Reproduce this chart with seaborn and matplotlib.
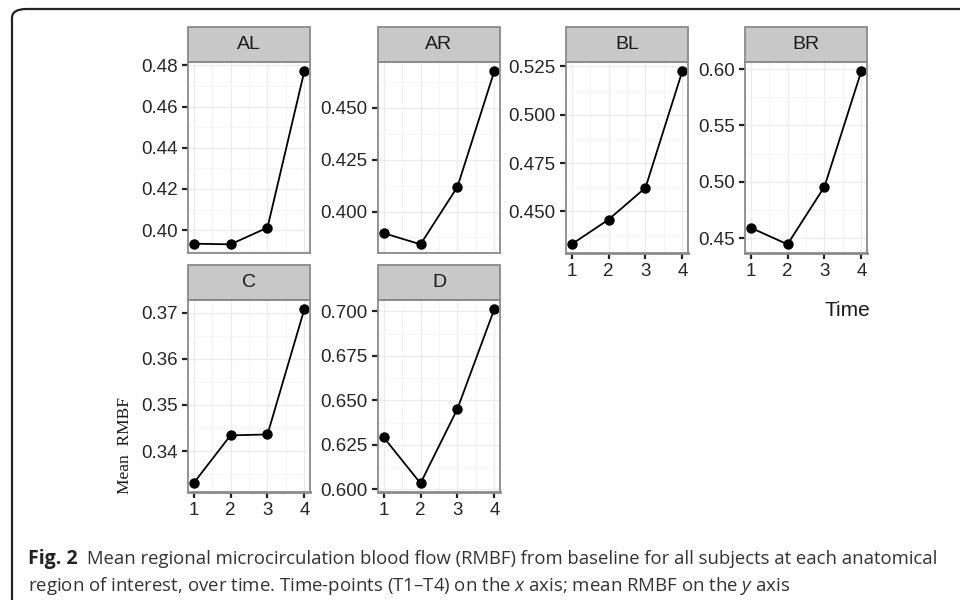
import numpy as np
import pandas as pd
import seaborn as sns
import matplotlib.pyplot as plt
from matplotlib.patches import Rectangle, FancyBboxPatch
from matplotlib.ticker import FixedLocator, AutoMinorLocator

# data
regions = ['AL', 'AR', 'BL', 'BR', 'C', 'D']
time = [1, 2, 3, 4]
al = [0.3934, 0.3931, 0.4012, 0.4774]
ar = [0.3896, 0.3842, 0.4119, 0.4678]
bl = [0.4329, 0.4457, 0.4622, 0.5228]
br = [0.4592, 0.4444, 0.4956, 0.5986]
c = [0.3330, 0.3434, 0.3436, 0.3709]
d = [0.6293, 0.6034, 0.6453, 0.7015]

y_ticks = {
    'AL': ([0.40, 0.42, 0.44, 0.46, 0.48], '{:.2f}'),
    'AR': ([0.400, 0.425, 0.450], '{:.3f}'),
    'BL': ([0.450, 0.475, 0.500, 0.525], '{:.3f}'),
    'BR': ([0.45, 0.50, 0.55, 0.60], '{:.2f}'),
    'C': ([0.34, 0.35, 0.36, 0.37], '{:.2f}'),
    'D': ([0.600, 0.625, 0.650, 0.675, 0.700], '{:.3f}'),
}

values = [al, ar, bl, br, c, d]
df = pd.DataFrame({
    'region': np.repeat(regions, len(time)),
    'Time': time * len(regions),
    'RMBF': np.concatenate(values),
})

sns.set_theme(style='white')
plt.rcParams['font.family'] = ['Liberation Sans', 'DejaVu Sans']
plt.rcParams['mathtext.fontset'] = 'custom'
plt.rcParams['mathtext.rm'] = 'Open Sans'
plt.rcParams['mathtext.it'] = 'Open Sans:italic'

g = sns.relplot(
    data=df, x='Time', y='RMBF', col='region', col_wrap=4,
    kind='line', marker='o', color='black', linewidth=1.3,
    markersize=7.5, markeredgewidth=0,
    facet_kws={'sharey': False, 'sharex': True},
)
fig = g.figure
fig.set_size_inches(9.6, 6)
fig.set_dpi(100)

W, H = 960, 600
col_x = [188, 378, 566, 745]
row_y = [(62, 253), (300, 492)]
pw = 122
strip_h = 35

for i, (ax, reg) in enumerate(zip(g.axes.flat, regions)):
    r, cidx = divmod(i, 4)
    top, bot = row_y[r]
    ax.set_position([col_x[cidx] / W, 1 - bot / H, pw / W, (bot - top) / H])
    ax.set_title('')
    ax.set_xlabel('')
    ax.set_ylabel('')
    ax.set_xlim(0.85, 4.15)

    ticks, fmt = y_ticks[reg]
    ax.yaxis.set_major_locator(FixedLocator(ticks))
    ax.set_yticklabels([fmt.format(t) for t in ticks])
    ax.yaxis.set_minor_locator(AutoMinorLocator(2))
    ax.set_xticks(time)
    ax.xaxis.set_minor_locator(AutoMinorLocator(2))

    ax.grid(True, which='major', color='#ebebeb', linewidth=0.9)
    ax.grid(True, which='minor', color='#f3f3f3', linewidth=0.6)
    ax.set_axisbelow(True)
    for s in ax.spines.values():
        s.set_color('#8a8a8a')
        s.set_linewidth(1.3)
        s.set_visible(True)

    bottom_row = reg in ('BL', 'BR', 'C', 'D')
    ax.tick_params(axis='y', which='major', left=True, length=4, width=1.6,
                   color='#222222', labelsize=13.5, labelcolor='#262626', pad=3.5)
    ax.tick_params(axis='x', which='major', bottom=bottom_row, length=4, width=1.6,
                   color='#222222', labelsize=13.5, labelcolor='#262626', pad=3.5,
                   labelbottom=bottom_row)
    ax.tick_params(which='minor', length=0)
    if bottom_row:
        ax.spines['bottom'].set_linewidth(2.0)

    # strip on top of the panel
    hfrac = strip_h / (bot - top)
    ax.add_patch(Rectangle((0, 1), 1, hfrac, transform=ax.transAxes, clip_on=False,
                           facecolor='#c8c8c8', edgecolor='#8a8a8a', linewidth=1.3))
    ax.text(0.5, 1 + hfrac / 2, reg, transform=ax.transAxes, ha='center', va='center',
            fontsize=14, color='#1a1a1a')
    for ln in ax.lines:
        ln.set_clip_on(False)

# axis titles
fig.text(847 / W, 1 - 310 / H, 'Time', ha='center', va='center', fontsize=15, color='#1a1a1a')
fig.text(125 / W, 1 - 445 / H, 'Mean  RMBF', rotation=90, ha='center', va='center',
         fontsize=12.5, family='Liberation Serif', color='#1a1a1a')

# caption
cap1 = 'Mean regional microcirculation blood flow (RMBF) from baseline for all subjects at each anatomical'
cap2 = r'region of interest, over time. Time-points (T1–T4) on the $\mathit{x}$ axis; mean RMBF on the $\mathit{y}$ axis'
fig.text(28 / W, 1 - 559 / H, 'Fig. 2', ha='left', va='center', fontsize=14,
         family='Open Sans', weight='bold', color='#222222')
fig.text(87 / W, 1 - 559 / H, cap1, ha='left', va='center', fontsize=13.3,
         family='Open Sans', color='#333333')
fig.text(28 / W, 1 - 586 / H, cap2, ha='left', va='center', fontsize=13.4,
         family='Open Sans', color='#333333')

# rounded frame round the figure
fig.patches.append(FancyBboxPatch((12 / W, -0.1), 1.2, 1 - 9 / H + 0.1,
                                  boxstyle='round,pad=0,rounding_size=0.015',
                                  transform=fig.transFigure, facecolor='none',
                                  edgecolor='#222222', linewidth=1.6, figure=fig))

fig.savefig('out.png', dpi=100)
